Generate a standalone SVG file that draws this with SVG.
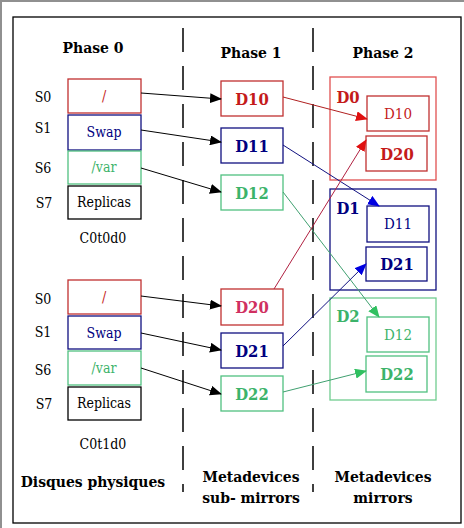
<svg xmlns="http://www.w3.org/2000/svg" width="464" height="528" viewBox="0 0 464 528">
<defs>
<style>
text{font-family:"DejaVu Serif Condensed","DejaVu Serif",serif;text-anchor:middle;dominant-baseline:central}
.h{font-size:15.5px;font-weight:bold;fill:#000}
.s{font-size:14px;fill:#000}
.t{font-size:14px}
.i{font-size:15px}
.b{font-size:16.5px;font-weight:bold}
.red{fill:#c41a1a}.redb{stroke:#c03030}
.blue{fill:#000080}.blueb{stroke:#101080}
.green{fill:#3cb36a}.greenb{stroke:#50c080}
rect{fill:#fff;stroke-width:1.3}
.dash{stroke:#000;stroke-width:1.5;stroke-dasharray:24 14}
.c{fill:none;stroke-width:1}
</style>
<marker id="ak" markerWidth="12" markerHeight="10" refX="11" refY="5" orient="auto" markerUnits="userSpaceOnUse"><path d="M0,0 L12,5 L0,10 Z" fill="#000"/></marker>
<marker id="ar" markerWidth="12" markerHeight="10" refX="11" refY="5" orient="auto" markerUnits="userSpaceOnUse"><path d="M0,0 L12,5 L0,10 Z" fill="#e01010"/></marker>
<marker id="ab" markerWidth="12" markerHeight="10" refX="11" refY="5" orient="auto" markerUnits="userSpaceOnUse"><path d="M0,0 L12,5 L0,10 Z" fill="#0000e0"/></marker>
<marker id="ag" markerWidth="12" markerHeight="10" refX="11" refY="5" orient="auto" markerUnits="userSpaceOnUse"><path d="M0,0 L12,5 L0,10 Z" fill="#30c060"/></marker>
</defs>
<rect x="0" y="0" width="464" height="528" fill="#fff" stroke="none"/>
<path d="M1,528 V1 H464" fill="none" stroke="#909090" stroke-width="2"/>
<rect x="13" y="17" width="448" height="506" fill="#fff" stroke="#000" stroke-width="1.5"/>
<line class="dash" x1="183" y1="28" x2="183" y2="492"/>
<line class="dash" x1="313" y1="28" x2="313" y2="492"/>

<g id="headers">
<text class="h" x="93" y="47">Phase 0</text>
<text class="h" x="251" y="52">Phase 1</text>
<text class="h" x="383" y="52">Phase 2</text>
<text class="h" x="93" y="481">Disques physiques</text>
<text class="h" x="251" y="476">Metadevices</text>
<text class="h" x="251" y="497">sub- mirrors</text>
<text class="h" x="383" y="476">Metadevices</text>
<text class="h" x="383" y="497">mirrors</text>
</g>

<g id="disk0">
<text class="s" x="43" y="97">S0</text>
<text class="s" x="43" y="128">S1</text>
<text class="s" x="43" y="168">S6</text>
<text class="s" x="44" y="203">S7</text>
<rect class="redb" x="68" y="79" width="73" height="34"/>
<text class="t red" x="104" y="96">/</text>
<rect class="blueb" x="68" y="115" width="73" height="35"/>
<text class="t blue" x="104" y="132">Swap</text>
<rect class="greenb" x="68" y="151" width="73" height="33"/>
<text class="t green" x="104" y="167">/var</text>
<rect stroke="#000" x="68" y="186" width="73" height="33"/>
<text class="t" x="104" y="202" fill="#000">Replicas</text>
<text class="s" x="103" y="238">C0t0d0</text>
</g>

<g id="disk1">
<text class="s" x="43" y="299">S0</text>
<text class="s" x="43" y="332">S1</text>
<text class="s" x="43" y="370">S6</text>
<text class="s" x="44" y="404">S7</text>
<rect class="redb" x="68" y="280" width="73" height="34"/>
<text class="t red" x="104" y="297">/</text>
<rect class="blueb" x="68" y="316" width="73" height="33"/>
<text class="t blue" x="104" y="333">Swap</text>
<rect class="greenb" x="68" y="351" width="73" height="34"/>
<text class="t green" x="104" y="368">/var</text>
<rect stroke="#000" x="68" y="387" width="73" height="33"/>
<text class="t" x="104" y="403" fill="#000">Replicas</text>
<text class="s" x="103" y="444">C0t1d0</text>
</g>

<g id="D10"><rect class="redb" x="221" y="81" width="62" height="35"/><text class="b red" x="252" y="99">D10</text></g>
<g id="D11"><rect class="blueb" x="221" y="128" width="62" height="35"/><text class="b blue" x="252" y="146">D11</text></g>
<g id="D12"><rect class="greenb" x="221" y="175" width="62" height="35"/><text class="b green" x="252" y="193">D12</text></g>
<g id="D20"><rect class="redb" x="221" y="289" width="62" height="36"/><text class="b" fill="#d03060" x="252" y="307">D20</text></g>
<g id="D21"><rect class="blueb" x="221" y="333" width="62" height="35"/><text class="b blue" x="252" y="351">D21</text></g>
<g id="D22"><rect class="greenb" x="221" y="376" width="62" height="35"/><text class="b green" x="252" y="394">D22</text></g>

<g id="D0">
<rect stroke="#e05050" x="330" y="77" width="106" height="103"/>
<text class="b red" x="348" y="97">D0</text>
<rect class="redb" x="367" y="96" width="62" height="35"/><text class="i red" x="398" y="114">D10</text>
<rect class="redb" x="366" y="136" width="61" height="35"/><text class="b red" x="397" y="154">D20</text>
</g>
<g id="D1">
<rect class="blueb" x="330" y="189" width="106" height="101"/>
<text class="b blue" x="348" y="208">D1</text>
<rect class="blueb" x="367" y="206" width="62" height="36"/><text class="i blue" x="398" y="224">D11</text>
<rect class="blueb" x="366" y="247" width="61" height="34"/><text class="b blue" x="397" y="264">D21</text>
</g>
<g id="D2">
<rect stroke="#70cc90" x="330" y="298" width="106" height="102"/>
<text class="b green" x="348" y="316">D2</text>
<rect class="greenb" x="367" y="317" width="62" height="35"/><text class="i green" x="398" y="335">D12</text>
<rect class="greenb" x="366" y="356" width="61" height="36"/><text class="b green" x="397" y="374">D22</text>
</g>

<g id="connectors">
<line class="c" stroke="#000" x1="141" y1="93" x2="221" y2="99" marker-end="url(#ak)"/>
<line class="c" stroke="#000" x1="141" y1="130" x2="221" y2="142" marker-end="url(#ak)"/>
<line class="c" stroke="#000" x1="141" y1="168" x2="221" y2="192" marker-end="url(#ak)"/>
<line class="c" stroke="#000" x1="141" y1="296" x2="221" y2="306" marker-end="url(#ak)"/>
<line class="c" stroke="#000" x1="141" y1="333" x2="221" y2="350" marker-end="url(#ak)"/>
<line class="c" stroke="#000" x1="141" y1="368" x2="221" y2="394" marker-end="url(#ak)"/>
<line class="c" stroke="#b02020" x1="283" y1="97" x2="367" y2="119" marker-end="url(#ar)"/>
<line class="c" stroke="#101080" x1="283" y1="145" x2="379" y2="206" marker-end="url(#ab)"/>
<line class="c" stroke="#40a070" x1="283" y1="192" x2="379" y2="317" marker-end="url(#ag)"/>
<line class="c" stroke="#b02040" x1="274" y1="289" x2="366" y2="140" marker-end="url(#ar)"/>
<line class="c" stroke="#101080" x1="283" y1="346" x2="366" y2="264" marker-end="url(#ab)"/>
<line class="c" stroke="#40a070" x1="283" y1="392" x2="366" y2="371" marker-end="url(#ag)"/>
</g>
</svg>
